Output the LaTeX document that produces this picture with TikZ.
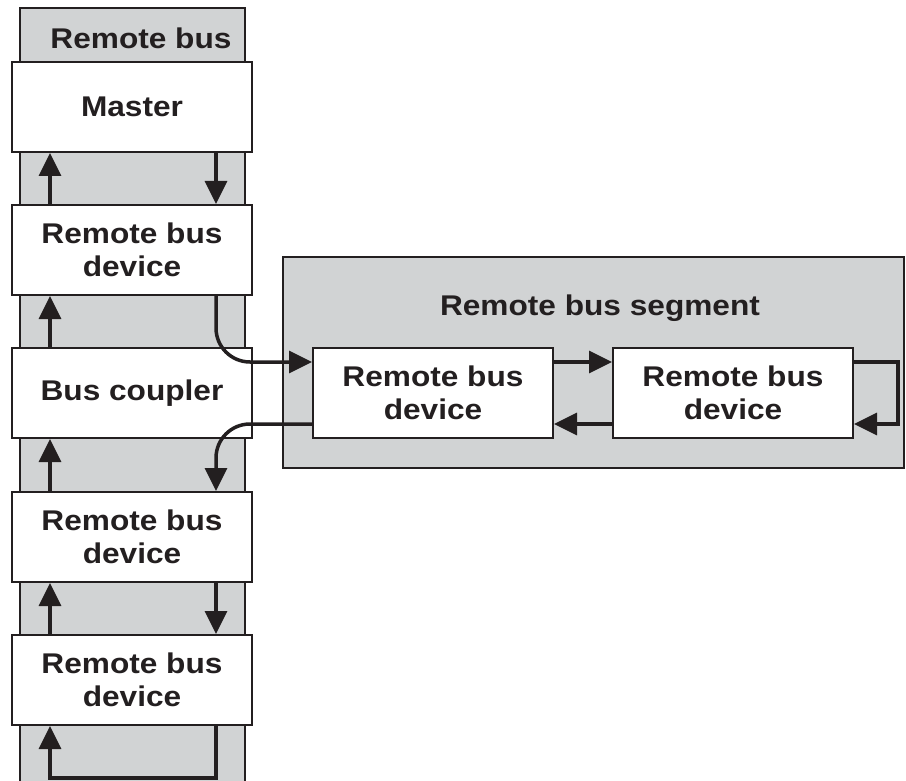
\documentclass[tikz,border=0pt]{standalone}
\usepackage{fontspec}
\setmainfont[FakeStretch=1.11]{Liberation Sans}
\usetikzlibrary{arrows.meta}
\definecolor{gr}{HTML}{D1D3D4}
\definecolor{ink}{HTML}{231F20}
\begin{document}
\begin{tikzpicture}[x=1pt,y=-1pt,
  box/.style={draw=ink, line width=2pt, fill=white, minimum width=240pt, minimum height=90pt,
    align=center, font=\fontsize{28.5}{32.5}\selectfont\bfseries, text=ink, inner sep=0pt},
  lbl/.style={font=\fontsize{28.5}{32.5}\selectfont\bfseries, text=ink, inner sep=0pt},
  arr/.style={draw=ink, line width=3.5pt, -{Triangle[length=23pt,width=22pt]}},
  curved/.style={arr, rounded corners=34pt}]
\useasboundingbox (0,0) rectangle (906,781);
% remote bus column
\fill[gr] (20,8) rectangle (245,790);
\draw[ink, line width=2pt] (20,790) -- (20,8) -- (245,8) -- (245,790);
\node[lbl] (rbtitle) at (141,38) {Remote bus};
% segment
\filldraw[fill=gr, draw=ink, line width=2pt] (283,257) rectangle (904,468);
\node[lbl] (segtitle) at (600,308) {Remote bus segment};
% boxes
\node[box] (master) at (132,107) {Master};
\node[box] (rbd1) at (132,250) {Remote bus\\device};
\node[box] (bc) at (132,393) {Bus coupler};
\node[box] (rbd2) at (132,537) {Remote bus\\device};
\node[box] (rbd3) at (132,680) {Remote bus\\device};
\node[box] (segA) at (433,393) {Remote bus\\device};
\node[box] (segB) at (733,393) {Remote bus\\device};
% helper coordinates
\coordinate (xl) at (50,0);
\coordinate (xr) at (216,0);
\coordinate (yf) at (0,362);
\coordinate (yb) at (0,424);
\coordinate (xloop) at (898,0);
\coordinate (ybot) at (0,778);
% arrows in the column
\draw[arr] (master.south -| xr) -- (rbd1.north -| xr);
\draw[arr] (rbd1.north -| xl) -- (master.south -| xl);
\draw[arr] (bc.north -| xl) -- (rbd1.south -| xl);
\draw[arr] (rbd2.north -| xl) -- (bc.south -| xl);
\draw[arr] (rbd3.north -| xl) -- (rbd2.south -| xl);
\draw[arr] (rbd2.south -| xr) -- (rbd3.north -| xr);
\draw[arr] (rbd3.south -| xr) -- (xr |- ybot) -- (xl |- ybot) -- (rbd3.south -| xl);
% to and from the segment
\draw[curved] (rbd1.south -| xr) |- (segA.west |- yf);
\draw[curved] (segA.west |- yb) -| (rbd2.north -| xr);
% inside the segment
\draw[arr] (segA.east |- yf) -- (segB.west |- yf);
\draw[arr] (segB.west |- yb) -- (segA.east |- yb);
\draw[arr] (segB.east |- yf) -- (xloop |- yf) -- (xloop |- yb) -- (segB.east |- yb);
\end{tikzpicture}
\end{document}
